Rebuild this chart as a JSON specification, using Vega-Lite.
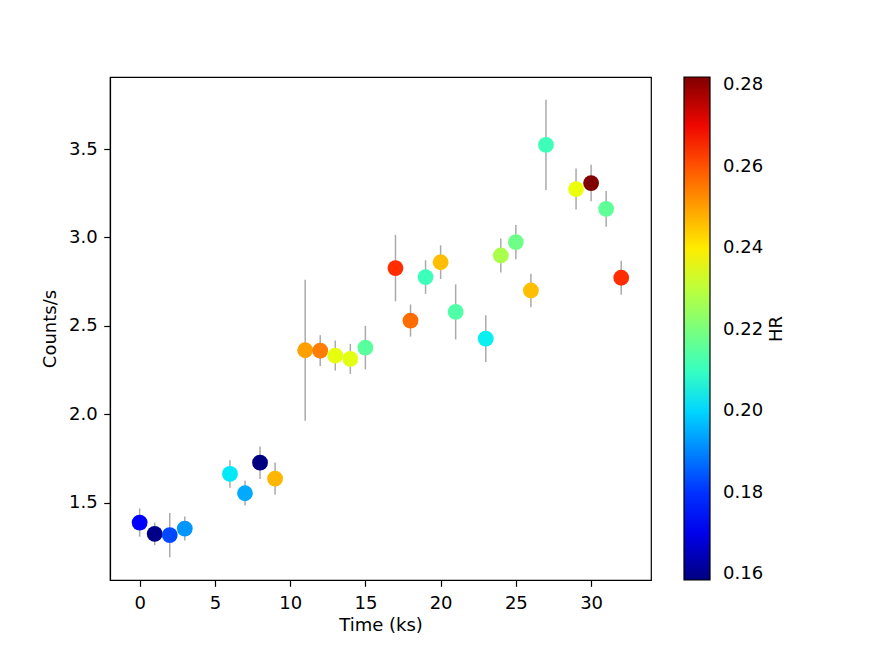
{
  "$schema": "https://vega.github.io/schema/vega-lite/v6.json",
  "width": 541,
  "height": 503,
  "autosize": {"type": "none"},
  "padding": {"left": 110, "top": 77, "right": 221, "bottom": 73},
  "background": "white",
  "config": {
    "font": "DejaVu Sans",
    "view": {"stroke": "black", "strokeWidth": 1.2}
  },
  "data": {
    "values": [
      {"time": 0, "rate": 1.387, "err": 0.080, "HR": 0.172},
      {"time": 1, "rate": 1.323, "err": 0.064, "HR": 0.1595},
      {"time": 2, "rate": 1.316, "err": 0.125, "HR": 0.1827},
      {"time": 3, "rate": 1.353, "err": 0.068, "HR": 0.1921},
      {"time": 6, "rate": 1.662, "err": 0.078, "HR": 0.202},
      {"time": 7, "rate": 1.553, "err": 0.070, "HR": 0.1946},
      {"time": 8, "rate": 1.726, "err": 0.092, "HR": 0.1586},
      {"time": 9, "rate": 1.636, "err": 0.091, "HR": 0.2471},
      {"time": 11, "rate": 2.362, "err": 0.399, "HR": 0.25},
      {"time": 12, "rate": 2.36, "err": 0.087, "HR": 0.2546},
      {"time": 13, "rate": 2.332, "err": 0.085, "HR": 0.2362},
      {"time": 14, "rate": 2.313, "err": 0.085, "HR": 0.2358},
      {"time": 15, "rate": 2.377, "err": 0.123, "HR": 0.2152},
      {"time": 17, "rate": 2.827, "err": 0.188, "HR": 0.265},
      {"time": 18, "rate": 2.53, "err": 0.091, "HR": 0.2566},
      {"time": 19, "rate": 2.776, "err": 0.095, "HR": 0.2108},
      {"time": 20, "rate": 2.86, "err": 0.095, "HR": 0.2461},
      {"time": 21, "rate": 2.579, "err": 0.156, "HR": 0.2137},
      {"time": 23, "rate": 2.428, "err": 0.132, "HR": 0.203},
      {"time": 24, "rate": 2.898, "err": 0.096, "HR": 0.2273},
      {"time": 25, "rate": 2.974, "err": 0.097, "HR": 0.2183},
      {"time": 26, "rate": 2.7, "err": 0.095, "HR": 0.2461},
      {"time": 27, "rate": 3.524, "err": 0.255, "HR": 0.211},
      {"time": 29, "rate": 3.274, "err": 0.116, "HR": 0.2371},
      {"time": 30, "rate": 3.308, "err": 0.103, "HR": 0.282},
      {"time": 31, "rate": 3.162, "err": 0.101, "HR": 0.216},
      {"time": 32, "rate": 2.772, "err": 0.096, "HR": 0.265}
    ]
  },
  "encoding": {
    "x": {
      "field": "time",
      "type": "quantitative",
      "scale": {"domain": [-1.97, 33.98], "nice": false, "zero": false},
      "axis": {
        "title": "Time (ks)", "values": [0, 5, 10, 15, 20, 25, 30], "format": "d",
        "grid": false, "domainColor": "black", "domainWidth": 1.2,
        "tickColor": "black", "tickSize": 6.3, "tickWidth": 1.2,
        "labelFont": "DejaVu Sans", "labelFontSize": 18, "labelColor": "black", "labelPadding": 8,
        "titleFont": "DejaVu Sans", "titleFontSize": 18, "titleFontWeight": "normal", "titleColor": "black", "titlePadding": 4
      }
    }
  },
  "resolve": {"scale": {"y": "independent"}, "axis": {"y": "independent"}},
  "layer": [
    {
      "encoding": {
        "y": {
          "field": "rate",
          "type": "quantitative",
          "scale": {"domain": [1.062, 3.908], "nice": false, "zero": false},
          "axis": {
            "orient": "left",
            "title": "Counts/s", "values": [1.5, 2.0, 2.5, 3.0, 3.5], "format": ".1f",
            "grid": false, "domainColor": "black", "domainWidth": 1.2,
            "tickColor": "black", "tickSize": 6.3, "tickWidth": 1.2,
            "labelFont": "DejaVu Sans", "labelFontSize": 18, "labelColor": "black", "labelPadding": 6.5,
            "titleFont": "DejaVu Sans", "titleFontSize": 18, "titleFontWeight": "normal", "titleColor": "black", "titlePadding": 9
          }
        }
      },
      "layer": [
        {
          "mark": {"type": "errorbar", "color": "#aaaaaa", "thickness": 1.5, "ticks": false},
          "encoding": {"yError": {"field": "err"}}
        },
        {
          "mark": {"type": "circle", "size": 250, "opacity": 1},
          "encoding": {
            "color": {
              "field": "HR",
              "type": "quantitative",
              "scale": {
                "type": "linear",
                "interpolate": "rgb",
                "domain": [0.1586, 0.17217, 0.17403, 0.20056, 0.20179, 0.20488, 0.23758, 0.23881, 0.24004, 0.26843, 0.27089, 0.282],
                "range": ["#000080", "#0000ff", "#0000ff", "#00dbff", "#00e6f7", "#15ffe2", "#efff08", "#f7f500", "#ffec00", "#ff1300", "#e80000", "#800000"]
              },
              "legend": {
                "orient": "none",
                "legendX": 574,
                "legendY": 0,
                "direction": "vertical",
                "gradientLength": 503,
                "gradientThickness": 26,
                "gradientStrokeColor": "black",
                "gradientStrokeWidth": 1.2,
                "values": [0.16, 0.18, 0.2, 0.22, 0.24, 0.26, 0.28],
                "format": ".2f",
                "labelFont": "DejaVu Sans",
                "labelFontSize": 18,
                "labelColor": "black",
                "labelOffset": 13,
                "labelOverlap": false,
                "title": null
              }
            }
          }
        }
      ]
    },
    {
      "mark": {"type": "point", "opacity": 0},
      "encoding": {
        "y": {
          "field": "rate",
          "type": "quantitative",
          "scale": {"domain": [1.062, 3.908], "nice": false, "zero": false},
          "axis": {
            "orient": "right",
            "title": "HR",
            "labels": false, "ticks": false, "domain": false, "grid": false,
            "titleAngle": 270,
            "titleFont": "DejaVu Sans", "titleFontSize": 18, "titleFontWeight": "normal", "titleColor": "black",
            "titlePadding": 134
          }
        }
      }
    }
  ]
}
